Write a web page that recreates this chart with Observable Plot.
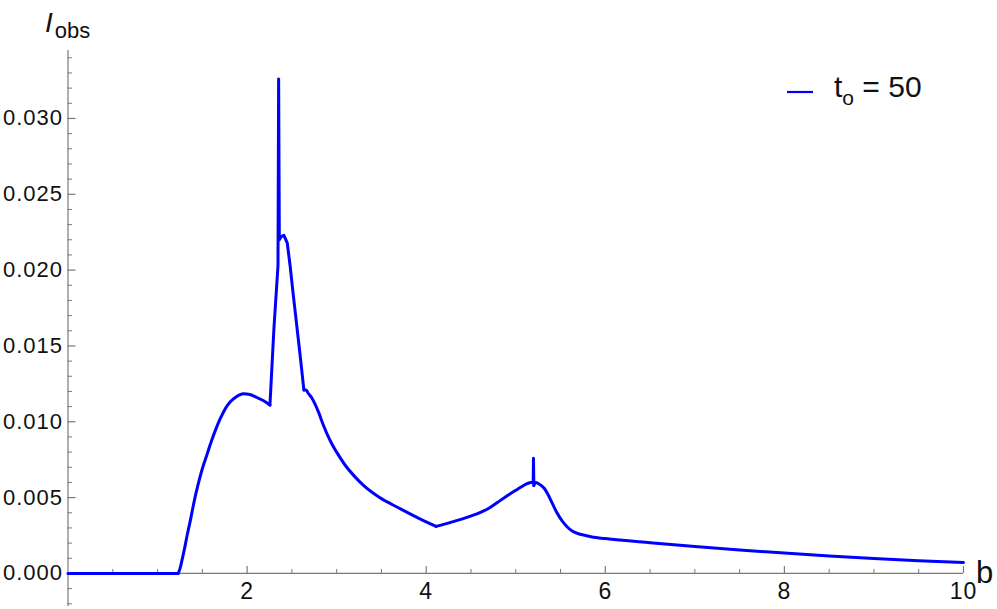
<!DOCTYPE html>
<html><head><meta charset="utf-8">
<script src="https://cdn.jsdelivr.net/npm/d3@7"></script>
<script src="https://cdn.jsdelivr.net/npm/@observablehq/plot@0.6"></script>
<style>
body{margin:0;background:#fff;}
#wrap{position:relative;width:997px;height:609px;overflow:hidden;}
svg text{font-family:"Liberation Sans",Arial,sans-serif;}
svg g.ticklab text{letter-spacing:1px;}
</style></head><body><div id="wrap"></div>
<script>
// impact parameter b (points on piece boundaries repeat so each piece joins the next)
const bValues = [0, 1.23,
  1.23, 1.25, 1.27, 1.30, 1.33, 1.37, 1.40, 1.45, 1.50, 1.55, 1.60, 1.65, 1.70, 1.75, 1.81, 1.88, 1.96, 2.03, 2.11, 2.18, 2.255,
  2.255, 2.30, 2.345, 2.352, 2.36, 2.38, 2.41, 2.448, 2.48, 2.515, 2.59, 2.634,
  2.634, 2.66, 2.68, 2.72, 2.756, 2.80, 2.85, 2.90, 2.95, 3.00, 3.10, 3.20, 3.30, 3.48, 3.70, 3.93, 4.11,
  4.11, 4.29, 4.48, 4.60, 4.70, 4.80, 4.90, 5.0, 5.06, 5.12, 5.17, 5.195,
  5.195, 5.198, 5.202,
  5.202, 5.22, 5.26, 5.32, 5.36, 5.41, 5.46, 5.52, 5.57, 5.63, 5.71, 5.78, 5.85, 6.0, 6.5, 7.0, 7.5, 8.0, 8.5, 9.0, 9.5, 10];
// observed intensity I_obs (t_o = 50)
const intensity = [0, 0,
  0, 0.0003, 0.0008, 0.0016, 0.0025, 0.0036, 0.0045, 0.0058, 0.0069, 0.0078, 0.0087, 0.0095, 0.0102, 0.0108, 0.0113, 0.01165, 0.01185, 0.0118, 0.0116, 0.0114, 0.0111,
  0.0111, 0.0162, 0.0203, 0.0326, 0.0220, 0.0222, 0.0223, 0.0218, 0.0203, 0.0184, 0.0145, 0.0121,
  0.0121, 0.0121, 0.0119, 0.0116, 0.0112, 0.0106, 0.0098, 0.0091, 0.0085, 0.0080, 0.0071, 0.0064, 0.0058, 0.0050, 0.0043, 0.0036, 0.0031,
  0.0031, 0.0034, 0.00375, 0.00401, 0.0043, 0.0047, 0.0051, 0.00548, 0.0057, 0.0059, 0.0060, 0.00602,
  0.00602, 0.0076, 0.0058,
  0.0058, 0.0060, 0.0059, 0.0056, 0.0052, 0.0046, 0.0040, 0.00345, 0.0031, 0.0028, 0.0026, 0.0025, 0.0024, 0.0023, 0.00203, 0.00178, 0.00155, 0.00134, 0.00115, 0.00098, 0.00084, 0.00072];
// piece of the curve each point belongs to (sharp pieces drawn straight, smooth ones curved)
const pieceIds = [
  "A", "A",
  "B", "B", "B", "B", "B", "B", "B", "B", "B", "B", "B", "B", "B", "B", "B", "B", "B", "B", "B", "B", "B",
  "C", "C", "C", "C", "C", "C", "C", "C", "C", "C", "C", "C",
  "D", "D", "D", "D", "D", "D", "D", "D", "D", "D", "D", "D", "D", "D", "D", "D", "D",
  "E", "E", "E", "E", "E", "E", "E", "E", "E", "E", "E", "E",
  "F", "F", "F",
  "G", "G", "G", "G", "G", "G", "G", "G", "G", "G", "G", "G", "G", "G", "G", "G", "G", "G", "G", "G", "G", "G"];
const sharpPieces = ["A", "C", "F"];

const xMajorTicks = [2, 4, 6, 8, 10];
const xMinorTicks = [0.5, 1, 1.5, 2.5, 3, 3.5, 4.5, 5, 5.5, 6.5, 7, 7.5, 8.5, 9, 9.5];
const yMajorTicks = [0, 0.005, 0.010, 0.015, 0.020, 0.025, 0.030];
const yMinorTicks = [-0.002, -0.001, 0.001, 0.002, 0.003, 0.004, 0.006, 0.007, 0.008, 0.009, 0.011, 0.012, 0.013, 0.014,
  0.016, 0.017, 0.018, 0.019, 0.021, 0.022, 0.023, 0.024, 0.026, 0.027, 0.028, 0.029, 0.031, 0.032, 0.033, 0.034];
const legendLabel = {base: "t", sub: "o", rest: " = 50"};

const data = bValues.map((b, i) => ({b, I: intensity[i], piece: pieceIds[i]}));
const sharpData = data.filter(d => sharpPieces.includes(d.piece));
const smoothData = data.filter(d => !sharpPieces.includes(d.piece));

const W = 997, H = 609;
const mL = 67.5, mR = 34, mT = 50, mB = 3;
const xDomain = [0, 10], yDomain = [-0.00218, 0.03448];
const pxPerX = (W - mL - mR) / (xDomain[1] - xDomain[0]);
const pxPerY = (H - mT - mB) / (yDomain[1] - yDomain[0]);
const axisColor = "#7a7a7a";
const fmt = d3.format(".3f");
const curveColor = "#0000ff";

const chart = Plot.plot({
  width: W, height: H,
  marginLeft: mL, marginRight: mR, marginTop: mT, marginBottom: mB,
  x: {domain: xDomain, axis: null},
  y: {domain: yDomain, axis: null},
  style: {fontFamily: "Liberation Sans, Arial, sans-serif", fontSize: "22px", overflow: "visible", background: "#fff"},
  marks: [
    Plot.ruleY([0], {x1: 0, x2: 10, stroke: axisColor, strokeWidth: 1.2}),
    Plot.ruleX([0], {y1: yDomain[0], y2: yDomain[1], stroke: axisColor, strokeWidth: 1.2}),
    Plot.ruleX(xMajorTicks, {x: d => d, y1: 0, y2: 7 / pxPerY, stroke: axisColor, strokeWidth: 1.2}),
    Plot.ruleX(xMinorTicks, {x: d => d, y1: 0, y2: 4 / pxPerY, stroke: axisColor, strokeWidth: 1}),
    Plot.ruleY(yMajorTicks, {y: d => d, x1: 0, x2: 8 / pxPerX, stroke: axisColor, strokeWidth: 1.2}),
    Plot.ruleY(yMinorTicks, {y: d => d, x1: 0, x2: 4.5 / pxPerX, stroke: axisColor, strokeWidth: 1}),
    Plot.text(xMajorTicks, {x: d => d, y: 0, dy: 18, text: d => String(d), fill: "#111", fontSize: 23, className: "ticklab"}),
    Plot.text(yMajorTicks, {x: 0, y: d => d, dx: -5, textAnchor: "end", text: d => fmt(d), fill: "#111", fontSize: 22, className: "ticklab"}),
    Plot.line(smoothData, {x: "b", y: "I", z: "piece", curve: "monotone-x", stroke: curveColor, strokeWidth: 3}),
    Plot.line(sharpData, {x: "b", y: "I", z: "piece", curve: "linear", stroke: curveColor, strokeWidth: 3})
  ]
});
document.getElementById("wrap").appendChild(chart);

const svg = d3.select(chart);
// y-axis label I_obs
const yl = svg.append("text").attr("x", 45).attr("y", 32).attr("text-anchor", "start").attr("fill", "#111");
yl.append("tspan").attr("font-style", "italic").attr("font-size", 28).text("I");
yl.append("tspan").attr("font-size", 22).attr("dx", 2).attr("dy", 6).text("obs");
// x-axis label b
svg.append("text").attr("x", 976).attr("y", 583).attr("text-anchor", "start").attr("font-size", 31).attr("fill", "#111").text("b");
// legend
svg.append("line").attr("x1", 787).attr("x2", 813).attr("y1", 92).attr("y2", 92)
  .attr("stroke", curveColor).attr("stroke-width", 2.2);
const lg = svg.append("text").attr("x", 834).attr("y", 97).attr("text-anchor", "start").attr("font-size", 30).attr("fill", "#111");
lg.append("tspan").text(legendLabel.base);
lg.append("tspan").attr("font-size", 21).attr("dy", 8).text(legendLabel.sub);
lg.append("tspan").attr("dy", -8).text(legendLabel.rest);
</script></body></html>
